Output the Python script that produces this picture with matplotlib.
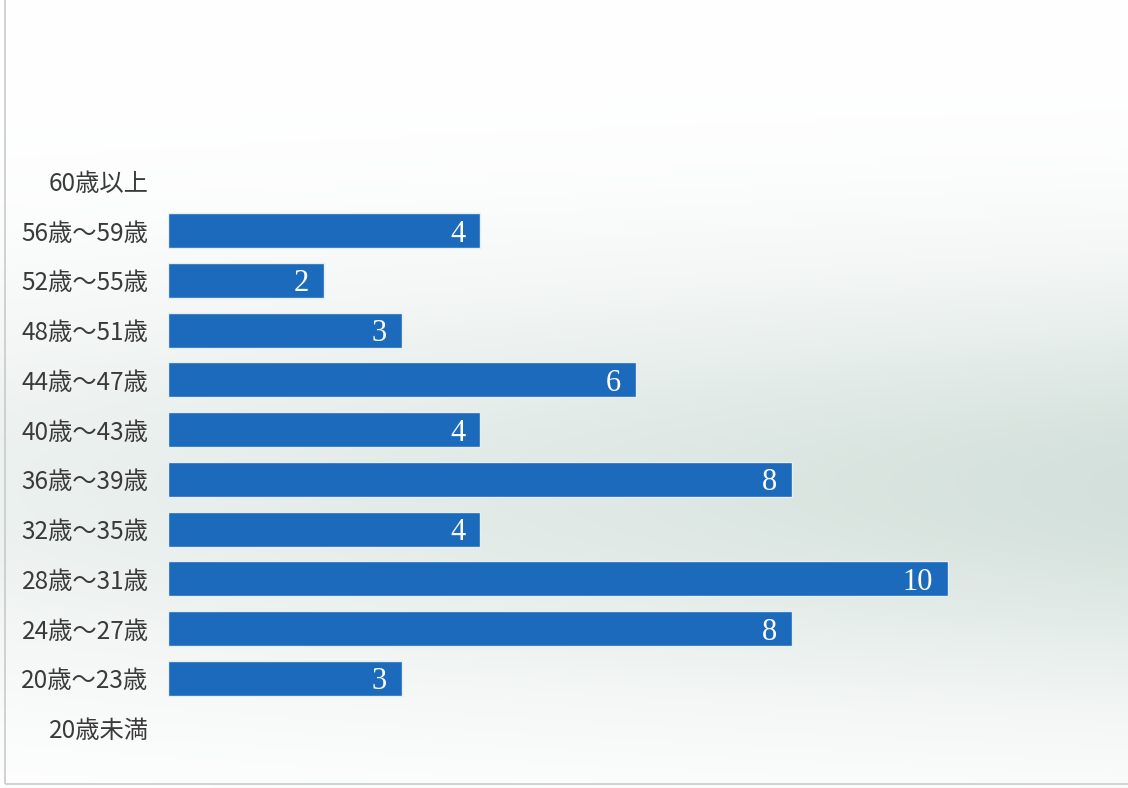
import numpy as np
import matplotlib
matplotlib.use("Agg")
import matplotlib.pyplot as plt
from matplotlib.patches import Rectangle

plt.rcParams['font.family'] = ['Noto Sans CJK JP', 'DejaVu Sans']

categories = ["20歳未満", "20歳～23歳", "24歳～27歳", "28歳～31歳", "32歳～35歳",
              "36歳～39歳", "40歳～43歳", "44歳～47歳", "48歳～51歳", "52歳～55歳",
              "56歳～59歳", "60歳以上"]
values = [0, 3, 8, 10, 4, 8, 4, 6, 3, 2, 4, 0]

W, H = 1128, 788
fig = plt.figure(figsize=(W / 100, H / 100), dpi=100)

# background gradient (scanned paper look)
bg = fig.add_axes([0, 0, 1, 1], zorder=0)
yy, xx = np.mgrid[0:1:200j, 0:1:300j]
shade = np.exp(-((yy - 0.62) / 0.26) ** 2) * (0.45 + 0.55 * xx)
r = 1 - 0.17 * shade
g = 1 - 0.12 * shade
b = 1 - 0.14 * shade
img = np.dstack([r, g, b])
bg.imshow(img, extent=[0, 1, 0, 1], aspect='auto', origin='upper')
bg.add_patch(Rectangle((5 / W, 4 / H), 1, 1, fill=False, edgecolor='#c8ccc8', lw=1.2))
bg.set_xlim(0, 1); bg.set_ylim(0, 1)
bg.axis('off')

left = 168 / W
top_px, bot_px = 156, 753
ax = fig.add_axes([left, (H - bot_px) / H, 936 / W, (bot_px - top_px) / H], zorder=1)
ax.patch.set_alpha(0)
y = np.arange(len(categories))
bars = ax.barh(y, values, height=0.7, color='#1c6abb', edgecolor='#e8eef0', linewidth=1.0)
for bar, v in zip(bars, values):
    if v == 0:
        bar.set_linewidth(0)
for yi, v in zip(y, values):
    if v > 0:
        ax.text(v - 0.19, yi - 0.07, str(v), ha='right', va='center', color='white',
                fontsize=22, family=['Liberation Serif', 'DejaVu Serif'])
ax.set_xlim(0, 12)
ax.set_ylim(-0.5, len(categories) - 0.5)
ax.set_yticks(y)
ax.set_yticklabels(categories, fontsize=17.5, color='#3a3a3a')
ax.tick_params(axis='y', length=0, pad=14)
ax.set_xticks([])
for s in ax.spines.values():
    s.set_visible(False)

fig.savefig("out.png", dpi=100)
